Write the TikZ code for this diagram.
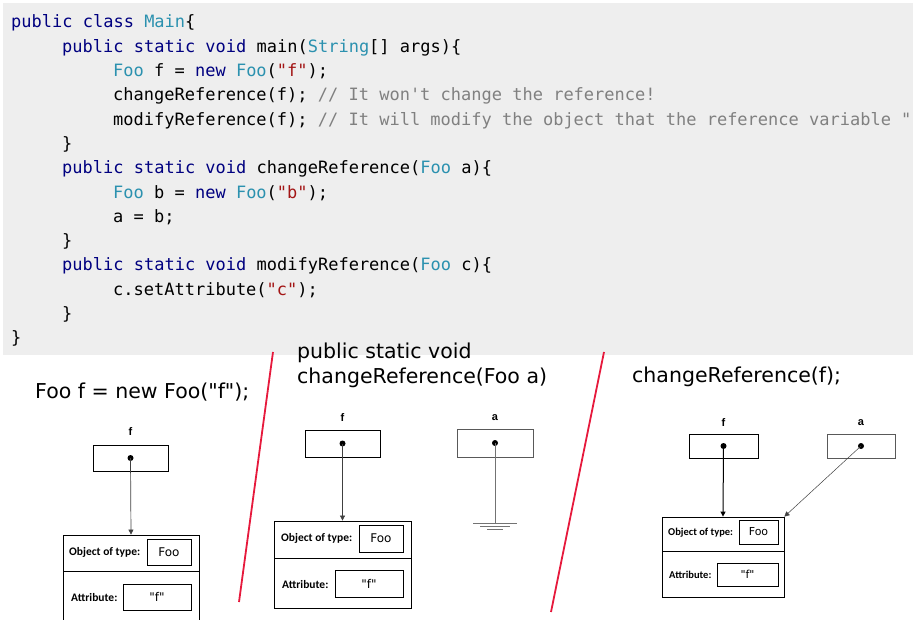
\documentclass[tikz,border=0pt]{standalone}
\usepackage{fontspec}
\setmainfont{DejaVu Sans}[Ligatures=TeXOff]
\setmonofont{DejaVu Sans Mono}
\newfontfamily\carl{Carlito}
\newfontfamily\lib{Liberation Sans}
\usetikzlibrary{arrows.meta}
\definecolor{codebg}{RGB}{238,238,238}
\definecolor{kwc}{RGB}{0,0,128}
\definecolor{tyc}{RGB}{43,145,175}
\definecolor{stc}{RGB}{163,21,21}
\definecolor{cmc}{RGB}{128,128,128}
\definecolor{redline}{RGB}{230,25,60}
\newcommand\kwd[1]{\textcolor{kwc}{#1}}
\newcommand\typ[1]{\textcolor{tyc}{#1}}
\newcommand\strg[1]{\textcolor{stc}{#1}}
\newcommand\cmt[1]{\textcolor{cmc}{#1}}
\tikzset{
  codeline/.style={anchor=base west, inner sep=0pt, font=\ttfamily\fontsize{17}{20}\selectfont},
  title/.style={anchor=base west, inner sep=0pt, font=\fontsize{20.5}{25}\selectfont},
  varlabel/.style={inner sep=0pt, font=\lib\bfseries\fontsize{11}{13}\selectfont},
  varbox/.style={draw, line width=0.8pt, inner sep=0pt},
  dotn/.style={circle, fill=black, inner sep=0pt, minimum size=6pt},
  objbox/.style={draw, line width=0.8pt, inner sep=0pt},
  smallbox/.style={draw, line width=0.8pt, inner sep=0pt, font=\fontsize{12}{14}\selectfont},
  objtext/.style={anchor=west, inner sep=0pt, font=\carl\bfseries\fontsize{11.5}{13}\selectfont},
  arr/.style={draw=black!75, line width=0.7pt, -{Triangle[length=5pt,width=5pt]}},
  redsep/.style={draw=redline, line width=1.8pt},
}
\begin{document}
\begin{tikzpicture}[x=1pt,y=-1pt]
\useasboundingbox (0,0) rectangle (913,620);
\fill[codebg] (3,3) rectangle (913,355);

% code
\node[codeline] (c1) at (11,28) {\kwd{public class} \typ{Main}\{};
\node[codeline] (c2) at (62,52.3) {\kwd{public static void} main(\typ{String}[] args)\{};
\node[codeline] (c3) at (113,76.6) {\typ{Foo} f = \kwd{new} \typ{Foo}(\strg{"f"});};
\node[codeline] (c4) at (113,100.9) {changeReference(f); \cmt{// It won't change the reference!}};
\node[codeline] (c5) at (113,125.2) {modifyReference(f); \cmt{// It will modify the object that the reference variable "}};
\node[codeline] (c6) at (62,149.5) {\}};
\node[codeline] (c7) at (62,173.8) {\kwd{public static void} changeReference(\typ{Foo} a)\{};
\node[codeline] (c8) at (113,198.1) {\typ{Foo} b = \kwd{new} \typ{Foo}(\strg{"b"});};
\node[codeline] (c9) at (113,222.4) {a = b;};
\node[codeline] (c10) at (62,246.7) {\}};
\node[codeline] (c11) at (62,271) {\kwd{public static void} modifyReference(\typ{Foo} c)\{};
\node[codeline] (c12) at (113,295.3) {c.setAttribute(\strg{"c"});};
\node[codeline] (c13) at (62,319.6) {\}};
\node[codeline] (c14) at (11,343.9) {\}};

% red separators
\coordinate (r1a) at (273,352);
\coordinate (r1b) at (239,602);
\coordinate (r2a) at (604,352);
\coordinate (r2b) at (551,612);
\draw[redsep] (r1a) -- (r1b);
\draw[redsep] (r2a) -- (r2b);

% titles
\node[title] (t1) at (35,398) {Foo f = new Foo("f");};
\node[title] (t2a) at (297,358) {public static void};
\node[title] (t2b) at (297,383) {changeReference(Foo a)};
\node[title] (t3) at (632,382) {changeReference(f);};

% ---------- panel 1
\node[varlabel] (lf1) at (130.5,432) {f};
\node[varbox, minimum width=75pt, minimum height=26pt] (f1) at (130.5,458) {};
\node[dotn] (d1) at (f1.center) {};
\node[objbox, minimum width=136pt, minimum height=90pt] (o1) at (131,580) {};
\coordinate (o1l) at (63,571);
\coordinate (o1r) at (199,571);
\draw[line width=0.8pt] (o1l) -- (o1r);
\node[objtext] (ot1) at (69,552) {Object of type:};
\node[smallbox, minimum width=44pt, minimum height=26pt] (tb1) at (169,552) {Foo};
\node[objtext] (at1) at (71,598) {Attribute:};
\node[smallbox, minimum width=68pt, minimum height=26pt] (ab1) at (157,597) {"f"};
\draw[arr] (d1.center) -- (o1.north);

% ---------- panel 2
\node[varlabel] (lf2) at (342.5,418) {f};
\node[varbox, minimum width=75pt, minimum height=27pt] (f2) at (342.5,443.5) {};
\node[dotn] (d2) at (f2.center) {};
\node[objbox, minimum width=137pt, minimum height=87pt] (o2) at (342.5,564.5) {};
\coordinate (o2l) at (274,558);
\coordinate (o2r) at (411,558);
\draw[line width=0.8pt] (o2l) -- (o2r);
\node[objtext] (ot2) at (281,538) {Object of type:};
\node[smallbox, minimum width=44pt, minimum height=27pt] (tb2) at (381,538.5) {Foo};
\node[objtext] (at2) at (282,585) {Attribute:};
\node[smallbox, minimum width=68pt, minimum height=27pt] (ab2) at (369,583.5) {"f"};
\draw[arr] (d2.center) -- (o2.north);

\node[varlabel] (la2) at (495,418) {a};
\node[varbox, draw=black!65, minimum width=76pt, minimum height=28pt] (a2) at (495,443) {};
\node[dotn] (da2) at (a2.center) {};
\coordinate (g2) at (495,523);
\draw[black!55, line width=0.8pt] (da2.center) -- (g2);
\draw[black!55, line width=0.8pt] ([xshift=-22pt]g2) -- ([xshift=22pt]g2);
\draw[black!55, line width=0.8pt] ([xshift=-15pt,yshift=-3pt]g2) -- ([xshift=15pt,yshift=-3pt]g2);
\draw[black!55, line width=0.8pt] ([xshift=-8pt,yshift=-6pt]g2) -- ([xshift=8pt,yshift=-6pt]g2);

% ---------- panel 3
\node[varlabel] (lf3) at (723.5,423) {f};
\node[varbox, minimum width=69pt, minimum height=24pt] (f3) at (723.5,446) {};
\node[dotn] (d3) at (f3.center) {};
\node[varlabel] (la3) at (861,423) {a};
\node[varbox, draw=black!65, minimum width=68pt, minimum height=24pt] (a3) at (861,446) {};
\node[dotn] (da3) at (a3.center) {};
\node[objbox, minimum width=122pt, minimum height=80pt] (o3) at (723,557) {};
\coordinate (o3l) at (662,551);
\coordinate (o3r) at (784,551);
\draw[line width=0.8pt] (o3l) -- (o3r);
\node[objtext, font=\carl\bfseries\fontsize{10.5}{12}\selectfont] (ot3) at (668,533) {Object of type:};
\node[smallbox, font=\fontsize{11}{13}\selectfont, minimum width=39pt, minimum height=24pt] (tb3) at (758.5,532) {Foo};
\node[objtext, font=\carl\bfseries\fontsize{10.5}{12}\selectfont] (at3) at (669,575) {Attribute:};
\node[smallbox, font=\fontsize{11}{13}\selectfont, minimum width=61pt, minimum height=23pt] (ab3) at (747.5,574.5) {"f"};
\draw[arr, draw=black, line width=1pt] (d3.center) -- (o3.north);
\draw[arr, line width=0.5pt] (da3.center) -- (o3.north east);
\end{tikzpicture}
\end{document}
